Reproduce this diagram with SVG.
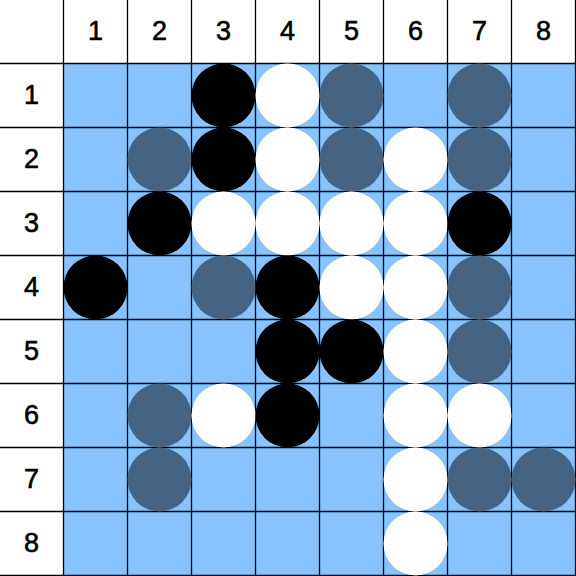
<svg xmlns="http://www.w3.org/2000/svg" width="576" height="576" viewBox="0 0 576 576">
<style>
.lbl{font-family:"Liberation Sans",Arial,sans-serif;font-size:27px;fill:#000;stroke:#000;stroke-width:0.6;text-anchor:middle}
.ln{stroke:#000;stroke-width:1.3}
.b{fill:#000}.w{fill:#fff}.g{fill:#466482}
</style>
<rect width="576" height="576" fill="#fff"/>
<rect x="64" y="64" width="512" height="512" fill="#87c4ff"/>
<g id="grid">
<path class="ln" d="M63.5 0V576M127.5 0V576M191.5 0V576M255.5 0V576M319.5 0V576M383.5 0V576M447.5 0V576M511.5 0V576M575.5 0V576M0 63.5H576M0 127.5H576M0 191.5H576M0 255.5H576M0 319.5H576M0 383.5H576M0 447.5H576M0 511.5H576M0 575.5H576"/>
</g>
<g id="labels">
<text class="lbl" x="95.5" y="40">1</text><text class="lbl" x="159.5" y="40">2</text><text class="lbl" x="223.5" y="40">3</text><text class="lbl" x="287.5" y="40">4</text><text class="lbl" x="351.5" y="40">5</text><text class="lbl" x="415.5" y="40">6</text><text class="lbl" x="479.5" y="40">7</text><text class="lbl" x="543.5" y="40">8</text>
<text class="lbl" x="31.5" y="104">1</text><text class="lbl" x="31.5" y="168">2</text><text class="lbl" x="31.5" y="232">3</text><text class="lbl" x="31.5" y="296">4</text><text class="lbl" x="31.5" y="360">5</text><text class="lbl" x="31.5" y="424">6</text><text class="lbl" x="31.5" y="488">7</text><text class="lbl" x="31.5" y="552">8</text>
</g>
<g id="stones">
<circle class="b" cx="223.5" cy="95.5" r="32"/><circle class="w" cx="287.5" cy="95.5" r="32"/><circle class="g" cx="351.5" cy="95.5" r="32"/><circle class="g" cx="479.5" cy="95.5" r="32"/>
<circle class="g" cx="159.5" cy="159.5" r="32"/><circle class="b" cx="223.5" cy="159.5" r="32"/><circle class="w" cx="287.5" cy="159.5" r="32"/><circle class="g" cx="351.5" cy="159.5" r="32"/><circle class="w" cx="415.5" cy="159.5" r="32"/><circle class="g" cx="479.5" cy="159.5" r="32"/>
<circle class="b" cx="159.5" cy="223.5" r="32"/><circle class="w" cx="223.5" cy="223.5" r="32"/><circle class="w" cx="287.5" cy="223.5" r="32"/><circle class="w" cx="351.5" cy="223.5" r="32"/><circle class="w" cx="415.5" cy="223.5" r="32"/><circle class="b" cx="479.5" cy="223.5" r="32"/>
<circle class="b" cx="95.5" cy="287.5" r="32"/><circle class="g" cx="223.5" cy="287.5" r="32"/><circle class="b" cx="287.5" cy="287.5" r="32"/><circle class="w" cx="351.5" cy="287.5" r="32"/><circle class="w" cx="415.5" cy="287.5" r="32"/><circle class="g" cx="479.5" cy="287.5" r="32"/>
<circle class="b" cx="287.5" cy="351.5" r="32"/><circle class="b" cx="351.5" cy="351.5" r="32"/><circle class="w" cx="415.5" cy="351.5" r="32"/><circle class="g" cx="479.5" cy="351.5" r="32"/>
<circle class="g" cx="159.5" cy="415.5" r="32"/><circle class="w" cx="223.5" cy="415.5" r="32"/><circle class="b" cx="287.5" cy="415.5" r="32"/><circle class="w" cx="415.5" cy="415.5" r="32"/><circle class="w" cx="479.5" cy="415.5" r="32"/>
<circle class="g" cx="159.5" cy="479.5" r="32"/><circle class="w" cx="415.5" cy="479.5" r="32"/><circle class="g" cx="479.5" cy="479.5" r="32"/><circle class="g" cx="543.5" cy="479.5" r="32"/>
<circle class="w" cx="415.5" cy="543.5" r="32"/>
</g>
</svg>
